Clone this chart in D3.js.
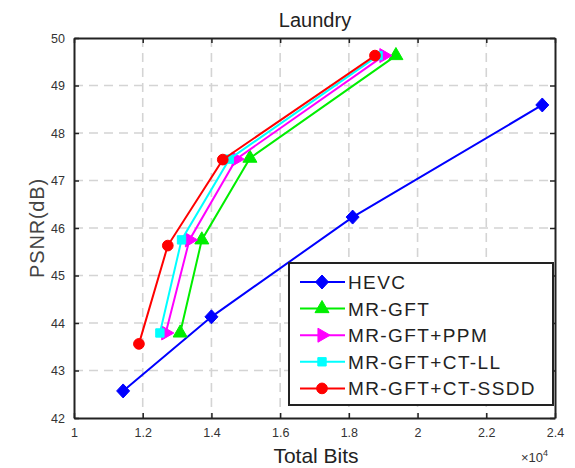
<!DOCTYPE html>
<html><head><meta charset="utf-8">
<script src="https://cdn.jsdelivr.net/npm/d3@7"></script>
<style>body{margin:0;background:#fff;}svg{display:block;font-family:"Liberation Sans",Arial,sans-serif;}</style>
</head><body><svg id="c" width="575" height="468"></svg>
<script>
const title = "Laundry";
const xLabel = "Total Bits";
const yLabel = "PSNR(dB)";
const xTicks = [1, 1.2, 1.4, 1.6, 1.8, 2, 2.2, 2.4];
const xTickLabels = ["1", "1.2", "1.4", "1.6", "1.8", "2", "2.2", "2.4"];
const yTicks = [42, 43, 44, 45, 46, 47, 48, 49, 50];
const seriesNames = ["HEVC", "MR-GFT", "MR-GFT+PPM", "MR-GFT+CT-LL", "MR-GFT+CT-SSDD"];
const seriesColors = ["#0000ff", "#00ee00", "#ff00ff", "#00ffff", "#ff0000"];
const seriesMarkers = ["diamond", "triUp", "triRight", "square", "circle"];
// x values in units of 10^4 bits
const hevcX = [1.143, 1.400, 1.811, 2.363];
const hevcY = [42.57, 44.13, 46.23, 48.59];
const gftX = [1.309, 1.372, 1.512, 1.937];
const gftY = [43.79, 45.75, 47.47, 49.63];
const ppmX = [1.267, 1.336, 1.472, 1.902];
const ppmY = [43.79, 45.75, 47.45, 49.63];
const llX = [1.250, 1.313, 1.452, 1.885];
const llY = [43.79, 45.75, 47.45, 49.63];
const ssddX = [1.189, 1.273, 1.433, 1.876];
const ssddY = [43.56, 45.63, 47.44, 49.63];
const allX = [hevcX, gftX, ppmX, llX, ssddX];
const allY = [hevcY, gftY, ppmY, llY, ssddY];

const svg = d3.select("#c");
const L = 74, R = 555, T = 38, B = 418;
const x = d3.scaleLinear().domain([1, 2.4]).range([L, R]);
const y = d3.scaleLinear().domain([42, 50]).range([B, T]);

// grid
const g = svg.append("g");
g.selectAll(".gx").data(xTicks.slice(1, -1)).enter().append("line")
  .attr("x1", d => x(d)).attr("x2", d => x(d)).attr("y1", T).attr("y2", B)
  .attr("stroke", "#d4d4d4").attr("stroke-width", 1.6).attr("stroke-dasharray", "9,6");
g.selectAll(".gy").data(yTicks.slice(1, -1)).enter().append("line")
  .attr("y1", d => y(d)).attr("y2", d => y(d)).attr("x1", L).attr("x2", R)
  .attr("stroke", "#d4d4d4").attr("stroke-width", 1.6).attr("stroke-dasharray", "9,6");

// axes (ticks inward)
const tickFont = "12.5px";
const axB = svg.append("g").attr("transform", `translate(0,${B})`)
  .call(d3.axisBottom(x).tickValues(xTicks).tickFormat((d, i) => xTickLabels[i]).tickSizeInner(-5).tickSizeOuter(0).tickPadding(10));
const axT = svg.append("g").attr("transform", `translate(0,${T})`)
  .call(d3.axisTop(x).tickValues(xTicks).tickFormat("").tickSizeInner(-5).tickSizeOuter(0));
const axL = svg.append("g").attr("transform", `translate(${L},0)`)
  .call(d3.axisLeft(y).tickValues(yTicks).tickFormat(d3.format("d")).tickSizeInner(-5).tickSizeOuter(0).tickPadding(9));
const axR = svg.append("g").attr("transform", `translate(${R},0)`)
  .call(d3.axisRight(y).tickValues(yTicks).tickFormat("").tickSizeInner(-5).tickSizeOuter(0));
[axB, axT, axL, axR].forEach(a => {
  a.select(".domain").attr("stroke", "#222").attr("stroke-width", 2);
  a.selectAll(".tick line").attr("stroke", "#222").attr("stroke-width", 1.5);
  a.selectAll("text").attr("font-size", tickFont).attr("fill", "#333").attr("font-family", "Liberation Sans, Arial");
});

// series
const line = d3.line().x(d => x(d[0])).y(d => y(d[1]));
const diamondPath = "M0,-7L6.5,0L0,7L-6.5,0Z";
const sym = {
  diamond: () => diamondPath,
  triUp: d3.symbol().type(d3.symbolTriangle).size(85),
  triRight: d3.symbol().type(d3.symbolTriangle).size(85),
  square: d3.symbol().type(d3.symbolSquare).size(70),
  circle: d3.symbol().type(d3.symbolCircle).size(90)
};
seriesNames.forEach((name, i) => {
  const pts = allX[i].map((v, j) => [v, allY[i][j]]);
  const sg = svg.append("g");
  sg.append("path").attr("d", line(pts)).attr("fill", "none")
    .attr("stroke", seriesColors[i]).attr("stroke-width", 2);
  sg.selectAll("path.m").data(pts).enter().append("path").attr("class", "m")
    .attr("d", sym[seriesMarkers[i]]())
    .attr("transform", d => `translate(${x(d[0])},${y(d[1])})` + (seriesMarkers[i] === "triRight" ? " rotate(90)" : ""))
    .attr("fill", seriesColors[i]).attr("stroke", seriesColors[i]);
});

// title & labels
svg.append("text").attr("x", 315).attr("y", 27).attr("text-anchor", "middle")
  .attr("font-size", "20px").attr("fill", "#222").text(title);
svg.append("text").attr("x", 316).attr("y", 463).attr("text-anchor", "middle")
  .attr("font-size", "21px").attr("fill", "#222").text(xLabel);
svg.append("text").attr("transform", "translate(44,228) rotate(-90)").attr("text-anchor", "middle")
  .attr("font-size", "20px").attr("letter-spacing", "0.8px").attr("fill", "#444").text(yLabel);
const ex = svg.append("text").attr("x", 521).attr("y", 462).attr("font-size", "13px").attr("fill", "#333");
ex.append("tspan").text("×10");
ex.append("tspan").attr("dy", -6).attr("font-size", "9px").text("4");

// legend
const lg = svg.append("g");
lg.append("rect").attr("x", 289).attr("y", 263).attr("width", 264).attr("height", 142)
  .attr("fill", "#fff").attr("stroke", "#222").attr("stroke-width", 2);
seriesNames.forEach((name, i) => {
  const yy = 282 + i * 26.6;
  lg.append("line").attr("x1", 300).attr("x2", 345).attr("y1", yy).attr("y2", yy)
    .attr("stroke", seriesColors[i]).attr("stroke-width", 2);
  lg.append("path").attr("d", sym[seriesMarkers[i]]())
    .attr("transform", `translate(322,${yy})` + (seriesMarkers[i] === "triRight" ? " rotate(90)" : ""))
    .attr("fill", seriesColors[i]).attr("stroke", seriesColors[i]);
  lg.append("text").attr("x", 348).attr("y", yy + 7).attr("font-size", "19px")
    .attr("letter-spacing", "1.4px").attr("fill", "#222").text(name);
});
</script></body></html>
